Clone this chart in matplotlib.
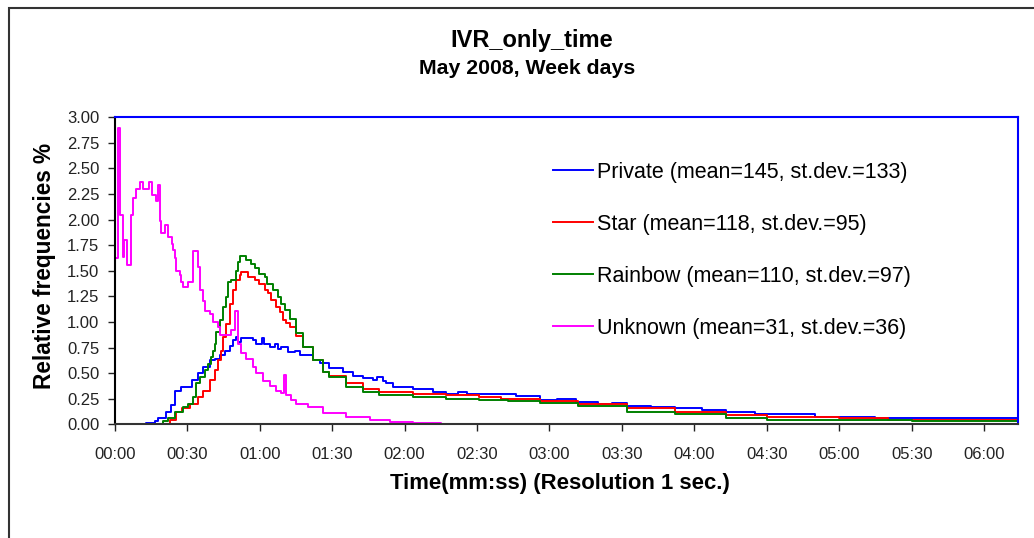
import matplotlib
matplotlib.use("Agg")
import matplotlib.pyplot as plt
from matplotlib.patches import Rectangle
from matplotlib.ticker import FuncFormatter, MultipleLocator

plt.rcParams['font.family'] = ['Liberation Sans', 'DejaVu Sans']

# time breakpoints (seconds) and relative frequencies (%)
private_t = [0, 13.1, 16.7, 18, 21.4, 23.4, 24.8, 27.6, 32, 34.5, 36.5, 39.3, 41.4,
             43.4, 45.5, 47.6, 49, 50.3, 51, 52.4, 57.2, 58.6, 61, 61.8, 64.1, 66.2,
             67.6, 69, 71.7, 74.5, 76.5, 82.1, 84.8, 88.9, 94.4, 98.5, 102.7, 106.8,
             108.5, 111, 112.4, 115.1, 123.4, 131.7, 137, 142, 146, 151, 159, 166, 176,
             183, 191, 200, 206, 212, 222, 232, 243, 253, 265, 290, 315, 374]
private_v = [0, 0.01, 0.03, 0.06, 0.12, 0.19, 0.33, 0.37, 0.43, 0.50, 0.56, 0.63, 0.64,
             0.68, 0.72, 0.77, 0.82, 0.85, 0.80, 0.84, 0.82, 0.79, 0.84, 0.79, 0.76, 0.79,
             0.74, 0.76, 0.71, 0.72, 0.68, 0.63, 0.60, 0.55, 0.51, 0.47, 0.45, 0.43,
             0.46, 0.42, 0.40, 0.37, 0.35, 0.32, 0.30, 0.32, 0.30, 0.30, 0.295, 0.28,
             0.24, 0.25, 0.22, 0.20, 0.21, 0.18, 0.17, 0.156, 0.14, 0.12, 0.105, 0.07,
             0.06, 0.055]

star_t = [0, 17, 22.8, 25.5, 28, 31, 34.5, 36.5, 39.3, 41.4, 42.7, 44, 45, 46.2, 47.6,
          49, 50.3, 51.7, 52.4, 55.2, 57.9, 59.9, 62, 63.5, 64.8, 66.8, 68.3, 69.6,
          71, 72.4, 75.2, 78, 82.1, 86.2, 88.9, 95.8, 102.7, 109.6, 123.4, 137, 151,
          160, 176, 192, 212, 232, 253, 270, 300, 320, 374]
star_v = [0, 0.005, 0.04, 0.12, 0.16, 0.20, 0.27, 0.33, 0.43, 0.53, 0.63, 0.72, 0.85,
          0.98, 1.18, 1.31, 1.41, 1.46, 1.49, 1.44, 1.41, 1.37, 1.31, 1.28, 1.21, 1.15,
          1.10, 1.02, 0.99, 0.95, 0.86, 0.76, 0.63, 0.51, 0.47, 0.40, 0.35, 0.32, 0.30,
          0.285, 0.27, 0.25, 0.23, 0.20, 0.156, 0.12, 0.09, 0.07, 0.065, 0.045, 0.04]

rainbow_t = [0, 14, 20, 22, 24.8, 28.3, 30.3, 32.4, 33.8, 35.2, 37.2, 38.6, 40, 40.7,
             41.4, 42.1, 43.6, 45, 46.2, 46.9, 48.3, 50.3, 51, 51.7, 54.5, 56.5, 57.9,
             59.9, 62, 63, 65.5, 67.6, 69, 70.3, 72.4, 75.2, 78, 82.1, 86.2, 88.9, 95.8,
             102.7, 109.6, 123.4, 137, 151, 163, 176, 192, 212, 232, 253, 270, 300, 330, 374]
rainbow_v = [0, 0.005, 0.03, 0.06, 0.12, 0.17, 0.20, 0.27, 0.40, 0.46, 0.53, 0.59, 0.66,
             0.72, 0.79, 0.90, 1.02, 1.15, 1.24, 1.39, 1.41, 1.50, 1.59, 1.64, 1.60, 1.57,
             1.53, 1.47, 1.44, 1.37, 1.31, 1.24, 1.18, 1.12, 1.03, 0.89, 0.76, 0.63, 0.51,
             0.465, 0.37, 0.32, 0.285, 0.27, 0.25, 0.24, 0.225, 0.205, 0.18, 0.123, 0.10,
             0.06, 0.045, 0.04, 0.03, 0.03]

unknown_t = [0, 1.4, 2.3, 3.2, 3.7, 5.1, 6.9, 7.6, 8.7, 10.6, 11.7, 14.2, 15.6, 17,
             17.7, 18.6, 19.3, 20.7, 22.1, 23.5, 24.1, 24.8, 25.5, 26.9, 27.6, 28.3,
             30.3, 32.4, 34.5, 35.2, 36.6, 37.2, 39.3, 40.7, 42.7, 43.4, 48.3, 49.7, 51,
             52.4, 54.5, 57.2, 58.6, 61.4, 64.1, 66.9, 69, 70.1, 70.8, 73.1, 75.2, 80,
             86.2, 95.9, 105.5, 113.8, 123.4, 135, 150, 374]
unknown_v = [1.62, 2.89, 2.04, 1.63, 1.80, 1.56, 2.04, 2.21, 2.30, 2.37, 2.30, 2.37, 2.24,
             2.18, 2.34, 1.99, 1.87, 1.95, 1.83, 1.76, 1.70, 1.62, 1.50, 1.46, 1.39, 1.34,
             1.39, 1.69, 1.54, 1.31, 1.20, 1.11, 1.08, 1.00, 0.95, 0.87, 0.92, 1.11, 0.79,
             0.70, 0.64, 0.56, 0.50, 0.42, 0.38, 0.33, 0.31, 0.48, 0.29, 0.24, 0.20, 0.17,
             0.11, 0.075, 0.045, 0.025, 0.01, 0.005, 0.0, 0.0]

labels = ["Private (mean=145, st.dev.=133)", "Star (mean=118, st.dev.=95)",
          "Rainbow (mean=110, st.dev.=97)", "Unknown (mean=31, st.dev.=36)"]
colors = ["#0000FF", "#FF0000", "#008000", "#FF00FF"]

fig = plt.figure(figsize=(10.34, 5.38), dpi=100)
ax = fig.add_axes([0.111, 0.211, 0.8735, 0.5715])

series = [(private_t, private_v), (star_t, star_v), (rainbow_t, rainbow_v), (unknown_t, unknown_v)]
for (t, v), lab, c in zip(series, labels, colors):
    ax.step(t, v, where='post', color=c, lw=1.4, label=lab)

ax.set_xlim(0, 374)
ax.set_ylim(0, 3)
ax.xaxis.set_major_locator(MultipleLocator(30))
ax.xaxis.set_major_formatter(FuncFormatter(lambda s, p: "%02d:%02d" % (int(s) // 60, int(s) % 60)))
ax.yaxis.set_major_locator(MultipleLocator(0.25))
ax.yaxis.set_major_formatter(FuncFormatter(lambda y, p: "%.2f" % y))
ax.tick_params(direction='out', length=5, width=1, labelsize=12, colors='#222222')
ax.tick_params(axis='x', pad=11)
ax.tick_params(axis='y', pad=6)

ax.spines['left'].set_color('black')
ax.spines['bottom'].set_color('#333333')
ax.spines['top'].set_color('#0000FF')
ax.spines['right'].set_color('#0000FF')
for s in ax.spines.values():
    s.set_linewidth(1.5)

ax.legend(loc='upper left', bbox_to_anchor=(0.485, 0.855), frameon=False, fontsize=15.5,
          handlelength=1.85, handletextpad=0.2, labelspacing=1.44, borderpad=0, borderaxespad=0)

fig.text(0.514, 1 - 40 / 538, "IVR_only_time", ha='center', va='center', fontsize=17, fontweight='bold')
fig.text(0.5097, 1 - 69 / 538, "May 2008, Week days", ha='center', va='center', fontsize=15.3, fontweight='bold')
fig.text(0.5416, 1 - 483 / 538, "Time(mm:ss) (Resolution 1 sec.)", ha='center', va='center',
         fontsize=15.9, fontweight='bold')
fig.text(0.0435, 1 - 265.5 / 538, "Relative frequencies %", ha='center', va='center',
         rotation=90, fontsize=16.3, fontweight='bold')

# outer frame of the chart
fig.patches.append(Rectangle((9 / 1034, -0.5), 2, 1 - 8 / 538 + 0.5, fill=False,
                             edgecolor='#333333', lw=1.5, transform=fig.transFigure, figure=fig))

fig.savefig("out.png", dpi=100)
